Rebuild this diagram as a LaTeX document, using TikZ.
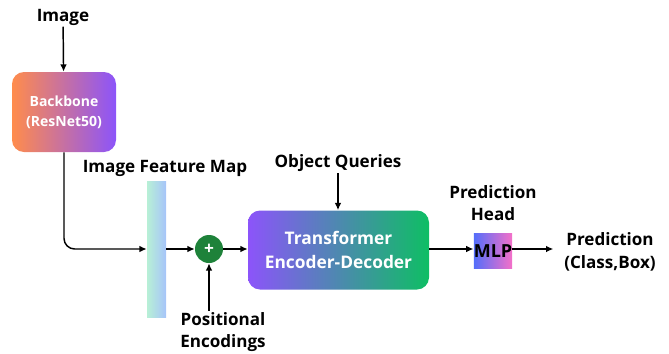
\documentclass[tikz,border=0pt]{standalone}
\usepackage{fontspec}
\setmainfont{Open Sans}
\usepackage{tikz}
\usetikzlibrary{arrows.meta,positioning,calc}

\definecolor{bbleft}{RGB}{255,140,76}
\definecolor{bbright}{RGB}{140,84,250}
\definecolor{trleft}{RGB}{140,84,250}
\definecolor{trright}{RGB}{14,190,100}
\definecolor{fmleft}{RGB}{184,240,214}
\definecolor{fmright}{RGB}{166,196,250}
\definecolor{mlpleft}{RGB}{84,110,250}
\definecolor{mlpright}{RGB}{245,112,200}
\definecolor{plusgreen}{RGB}{30,130,58}

\tikzset{
  lbl/.style={font=\bfseries\fontsize{12.8}{17}\selectfont, align=center, inner sep=1pt},
  arr/.style={-{Latex[length=5.5pt,width=5pt]}, line width=1.1pt},
  gradbox/.style={rounded corners=9pt, text=white, align=center, inner sep=0pt}
}

\begin{document}
\begin{tikzpicture}[x=0.75pt, y=-0.75pt]
\useasboundingbox (0,0) rectangle (669,354);
% boxes
\node[gradbox, left color=bbleft, right color=bbright, minimum width=78pt, minimum height=60pt,
  font=\bfseries\fontsize{10.5}{15}\selectfont] (backbone) at (64,112) {Backbone\\(ResNet50)};
\node[left color=fmleft, right color=fmright, minimum width=14.25pt, minimum height=102pt, inner sep=0pt] (fmap) at (156.5,249) {};
\node[circle, fill=plusgreen, minimum size=21pt, inner sep=0pt, text=white, font=\bfseries\fontsize{13}{13}\selectfont] (plus) at (209,249) {+};
\node[gradbox, left color=trleft, right color=trright, minimum width=135.75pt, minimum height=59.25pt,
  font=\bfseries\fontsize{13}{18}\selectfont] (trans) at (338.5,250) {Transformer\\Encoder-Decoder};
\node[left color=mlpleft, right color=mlpright, minimum width=28.5pt, minimum height=26.25pt, inner sep=0pt,
  font=\bfseries\fontsize{13.5}{16}\selectfont] (mlp) at (493,251) {MLP};
% labels
\node[lbl] (img) at (63,17) {Image};
\node[lbl] (fmaplbl) at (165,168) {Image Feature Map};
\node[lbl] (oq) at (338,163) {Object Queries};
\node[lbl] (pos) at (223,332) {Positional\\Encodings};
\node[lbl] (head) at (493,203) {Prediction\\Head};
\node[lbl, inner sep=8pt] (pred) at (610,252) {Prediction\\(Class,Box)};
% connectors
\draw[arr] (img) -- (backbone);
\draw[arr, rounded corners=8pt] (backbone.south) |- (fmap.west);
\draw[arr] (fmap.east) -- (plus.west);
\draw[arr] (pos.north -| plus.center) -- (plus.south);
\draw[arr] (plus.east) -- (plus.east -| trans.west);
\draw[arr] (oq) -- (oq.south |- trans.north);
\draw[arr] (trans.east |- plus.east) -- (mlp.west |- plus.east);
\draw[arr] (mlp.east |- plus.east) -- (pred.west |- plus.east);
\end{tikzpicture}
\end{document}
